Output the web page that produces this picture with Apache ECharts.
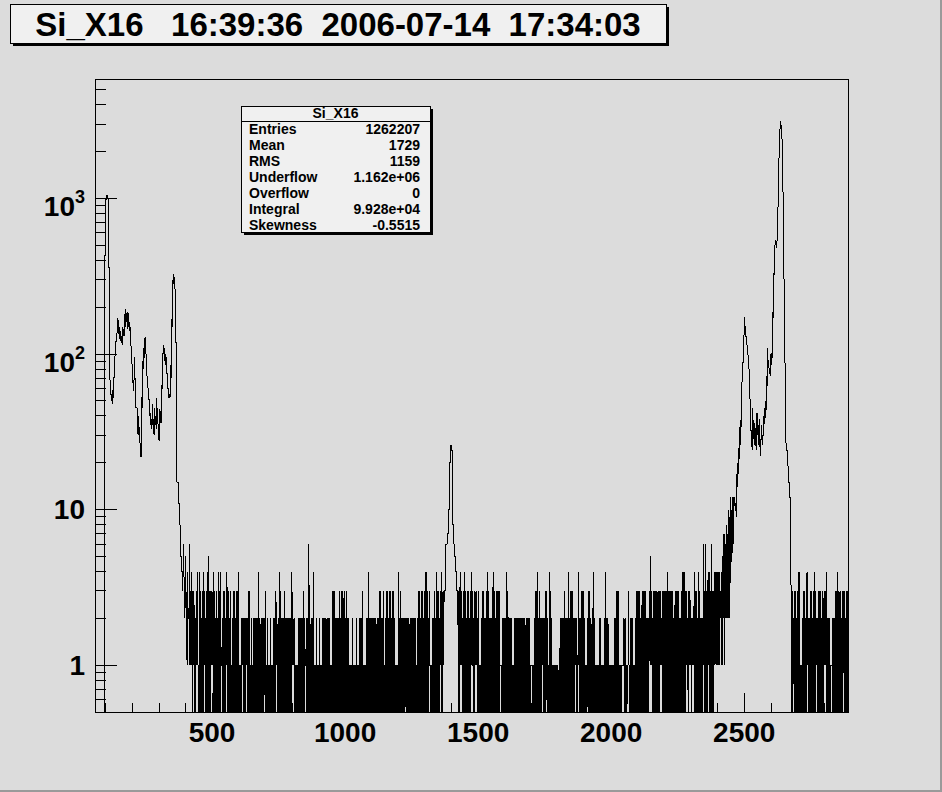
<!DOCTYPE html>
<html><head><meta charset="utf-8">
<script src="https://cdn.jsdelivr.net/npm/echarts@6/dist/echarts.min.js"></script>
<style>
html,body{margin:0;padding:0;background:#dcdcdc;}
#chart{width:942px;height:792px;}
#chart svg path,#chart svg line,#chart svg rect{shape-rendering:crispEdges;}
#chart svg text{white-space:pre;}
</style></head><body><div id="chart"></div>
<script>
// ---------- texts ----------
const titleText = 'Si_X16   16:39:36  2006-07-14  17:34:03';
const statsTitle = 'Si_X16';
const statsLabels = ['Entries','Mean','RMS','Underflow','Overflow','Integral','Skewness'];
const statsValues = ['1262207','1729','1159','1.162e+06','0','9.928e+04','-0.5515'];

// ---------- axes ----------
const xMin = 60, xMax = 2890;
const yMin = 0.5, yMax = 5860;
const xTickLabels = [500,1000,1500,2000,2500];
const xMinorTicks = [100,200,300,400,600,700,800,900,1100,1200,1300,1400,1600,1700,1800,1900,2100,2200,2300,2400,2600,2700,2800];
const yTickLabels = [1,10,100,1000];
const yMinorTicks = [0.6,0.7,0.8,0.9,2,3,4,5,6,7,8,9,20,30,40,50,60,70,80,90,200,300,400,500,600,700,800,900,2000,3000,4000,5000];

// ---------- histogram (bin width 4, first bin starts at 60) ----------
const binStart = 60, binWidth = 4;
// bins 0..88 : left peaks (max and min count seen in each bin)
const leftPeakHi = [0,0,0,0,0,0,0,0,0,
  430,990,1050,1000,360,
  72,55,52,60,80,121,
  130,170,165,150,140,130,150,145,180,195,170,185,160,150,
  107,80,65,95,53,
  45,35,40,30,22,53,90,
  110,128,100,68,60,
  50,42,38,48,35,45,40,52,38,28,44,42,
  66,
  115,110,100,95,75,60,55,85,
  167,300,325,270,118,
  15,11,8,6,5,4,6,3,5,2,4,2];
const leftPeakLo = [0,0,0,0,0,0,0,0,0,
  430,990,1050,1000,360,
  55,50,48,52,70,110,
  120,140,135,125,120,115,130,130,150,160,145,150,140,125,
  95,65,58,75,45,
  36,30,32,25,22,45,80,
  95,105,85,62,52,
  40,35,33,38,30,36,33,40,32,28,36,36,
  60,
  100,90,85,75,60,52,53,70,
  150,280,300,250,118,
  15,11,8,5,4,3,4,2,3,1,2,1];
// bins 89..327 : noise, per-bin max (hi) and min (lo) counts
const noiseBHi = ["6343323414","3234323453","3243232434","1233243231","2332334112","2222233121","2222242222","2312112112","2322432223","2222224221","1122222321","2262224112","1121122222","2211333222","2323332322","1112111211","2231112242","2222222233","2231233233","2321114232","2222222222","2221233233","2343231122","324332343"];
const noiseBLo = ["1101001100","1001100000","1100010001","0000100000","0100000001","0001000000","0100000000","1000000000","0100000010","0000001100","0001000010","0000000000","0000000000","0001000000","0000000000","0000000000","0000000000","0000000000","0000000000","0000000100","0010000000","0000001000","0000010000","000001001"];
// bins 328..340 : peak near 1400
const midPeak = [3,6,6,7,10,20,26,24,8,6,5,4,3];
// bins 341..590 : noise
const noiseDHi = ["3343234323","3234323323","1123322343","2224323333","1122224322","2112222222","2222222211","1123342322","2233214321","1111112222","3222423332","2214223332","1123322421","1112211124","2211111223","3311112211","3122211233","3323333222","3532333333","3233333433","3332333322","3444332332","2243324322","2636344363","3444444345"];
const noiseDLo = ["0011000010","0011001100","0000000000","0000000001","0010000000","0000000000","0000000011","0000000001","0001001000","0000000001","0000000000","1001000000","0100000000","0000000000","0000000000","0000110001","1000000000","0000000001","1110000000","1100010000","0000000000","0000110110","1100100000","1000010000","1111112112"];
// bins 591..599 : rising edge
const riseHi = [7,6,8,7,10,9,12,10,12];
const riseLo = [1,2,2,2,2,2,4,5,6];
// bins 600..653 : right peaks
const rightPeakHi = [12,12,11,17,20,25,34,38,74,99,174,150,129,112,88,59,40,28,45,30,36,26,42,32,38,24,35,30,40,45,50,72,110,90,80,100,102,185,335,540,520,570,1470,2780,3140,2500,1160,310,93,30,24,21,15,12];
const rightPeakLo = [11,10,9,14,17,21,26,34,66,90,150,130,115,100,80,50,30,24,32,26,28,24,30,26,28,22,28,26,34,38,44,62,85,75,72,85,95,170,320,500,480,530,1400,2700,3050,2400,1100,300,85,24,20,15,12,10];
// bins 654..707 : noise
const noiseFHi = ["3323323441","1233242233","2343223332","3334222112","2233433233","3233"];
const noiseFLo = ["0010010000","0000010000","0001100000","0110000110","0000000001","0000"];

// ---------- build step points ----------
const digits = g => g.join('').split('').map(Number);
const segs = [
  {start:0,   hi:leftPeakHi,         lo:leftPeakLo},
  {start:89,  hi:digits(noiseBHi),   lo:digits(noiseBLo)},
  {start:328, hi:midPeak,            lo:midPeak},
  {start:341, hi:digits(noiseDHi),   lo:digits(noiseDLo)},
  {start:591, hi:riseHi,             lo:riseLo},
  {start:600, hi:rightPeakHi,        lo:rightPeakLo},
  {start:654, hi:digits(noiseFHi),   lo:digits(noiseFLo)}
];
const floorVal = v => (v > 0 ? v : 0.1);   // empty bins fall below the log axis
const pts = [];
let lastBin = 0, lastVal = 0;
segs.forEach(s => {
  for (let i = 0; i < s.hi.length; i++) {
    const b = s.start + i, x = binStart + b * binWidth;
    pts.push([x, floorVal(s.hi[i])]);
    if (s.lo[i] !== s.hi[i]) pts.push([x + binWidth / 2, floorVal(s.lo[i])]);
    lastBin = b; lastVal = s.lo[i];
  }
});
pts.push([binStart + (lastBin + 1) * binWidth, floorVal(lastVal)]);

// ---------- chart ----------
const FONT = '"Liberation Sans", Arial, Helvetica, sans-serif';
const chart = echarts.init(document.getElementById('chart'), null, {renderer:'svg', width:942, height:792});

const statsGraphics = [];
const sx = 241, sy = 106, sw = 189, sh = 126;
statsGraphics.push({type:'rect', z:100, shape:{x:sx+3, y:sy+3, width:sw, height:sh}, style:{fill:'#000'}});
statsGraphics.push({type:'rect', z:101, shape:{x:sx, y:sy, width:sw, height:sh}, style:{fill:'#f0f0f0', stroke:'#000', lineWidth:1}});
statsGraphics.push({type:'line', z:102, shape:{x1:sx, y1:sy+15, x2:sx+sw, y2:sy+15}, style:{stroke:'#000', lineWidth:1}});
statsGraphics.push({type:'text', z:102, x:sx+sw/2, y:sy+7, style:{text:statsTitle, fill:'#000', font:'bold 14px ' + FONT, align:'center', verticalAlign:'middle'}});
statsLabels.forEach((l, i) => {
  const yy = sy + 23 + i * 16;
  statsGraphics.push({type:'text', z:102, x:sx+8, y:yy, style:{text:l, fill:'#000', font:'bold 14px ' + FONT, align:'left', verticalAlign:'middle'}});
  statsGraphics.push({type:'text', z:102, x:sx+sw-10, y:yy, style:{text:statsValues[i], fill:'#000', font:'bold 14px ' + FONT, align:'right', verticalAlign:'middle'}});
});

const option = {
  backgroundColor: '#dcdcdc',
  animation: false,
  grid: {left:95, top:79, width:753, height:633, show:true, borderColor:'#000', borderWidth:1, backgroundColor:'transparent'},
  xAxis: [
    {type:'value', min:xMin, max:xMax, position:'bottom',
     axisLine:{show:true, onZero:false, lineStyle:{color:'#000', width:1}},
     axisTick:{show:true, inside:true, length:19, customValues:xTickLabels, lineStyle:{color:'#000', width:1}},
     axisLabel:{show:true, customValues:xTickLabels, margin:6, color:'#000', fontSize:28, fontWeight:'bold', fontFamily:FONT,
       formatter: v => String(Math.round(v))},
     splitLine:{show:false}},
    {type:'value', min:xMin, max:xMax, position:'bottom',
     axisLine:{show:false, onZero:false},
     axisTick:{show:true, inside:true, length:9, customValues:xMinorTicks, lineStyle:{color:'#000', width:1}},
     axisLabel:{show:false}, splitLine:{show:false}}
  ],
  yAxis: {type:'log', logBase:10, min:yMin, max:yMax,
    axisLine:{show:true, onZero:false, lineStyle:{color:'#000', width:1}},
    axisTick:{show:true, inside:true, length:22, lineStyle:{color:'#000', width:1}},
    axisLabel:{show:true, margin:10, showMinLabel:false, showMaxLabel:false,
      formatter: v => {
        const e = Math.round(Math.log10(v));
        if (!yTickLabels.some(t => Math.abs(t - v) / t < 1e-6)) return '';
        if (e >= 2) return '{e|10}{s|' + e + '}';
        return '{b|' + Math.round(v) + '}';
      },
      rich:{
        b:{fontSize:28, fontWeight:'bold', fontFamily:FONT, color:'#000'},
        e:{fontSize:28, fontWeight:'bold', fontFamily:FONT, color:'#000', padding:[16,0,0,0], verticalAlign:'bottom'},
        s:{fontSize:18, fontWeight:'bold', fontFamily:FONT, color:'#000', padding:[12,0,0,0], verticalAlign:'top'}
      }},
    splitLine:{show:false}, minorTick:{show:false}},
  series: [
    {type:'line', xAxisIndex:0, yAxisIndex:0, data:pts, step:'end', symbol:'none', showSymbol:false,
     lineStyle:{color:'#000', width:1}, clip:true, silent:true, animation:false},
    {type:'custom', xAxisIndex:0, yAxisIndex:0, silent:true, clip:false,
     data: yMinorTicks.map(v => [xMin, v]),
     renderItem: (params, api) => {
       const p = api.coord([api.value(0), api.value(1)]);
       return {type:'line', shape:{x1:p[0], y1:p[1], x2:p[0] + 11, y2:p[1]}, style:{stroke:'#000', lineWidth:1}};
     }}
  ],
  graphic: [
    {type:'rect', z:90, shape:{x:940, y:0, width:2, height:792}, style:{fill:'#9a9a9a'}},
    {type:'rect', z:90, shape:{x:0, y:790, width:942, height:2}, style:{fill:'#9a9a9a'}},
    {type:'rect', z:100, shape:{x:13, y:7, width:656, height:39}, style:{fill:'#000'}},
    {type:'rect', z:101, shape:{x:10, y:4, width:656, height:39}, style:{fill:'#f0f0f0', stroke:'#000', lineWidth:1}},
    {type:'text', z:102, x:338, y:24.5, style:{text:titleText, fill:'#000', font:'bold 33px ' + FONT, align:'center', verticalAlign:'middle'}}
  ].concat(statsGraphics)
};
chart.setOption(option);
</script></body></html>
